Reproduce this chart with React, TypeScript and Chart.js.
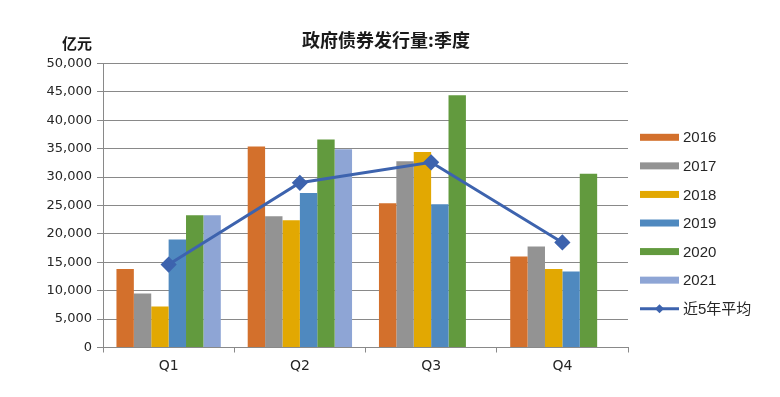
import React, { useEffect, useRef } from "react";
import { Chart, registerables } from "chart.js";

Chart.register(...registerables);

const categories = ["Q1", "Q2", "Q3", "Q4"];
const years = ["2016", "2017", "2018", "2019", "2020", "2021"];
const v2016 = [13800, 35400, 25400, 16000];
const v2017 = [9500, 23100, 32800, 17800];
const v2018 = [7200, 22400, 34400, 13800];
const v2019 = [19000, 27200, 25200, 13400];
const v2020 = [23300, 36600, 44400, 30600];
const v2021: (number | null)[] = [23300, 34900, null, null];
const avg5 = [14600, 29000, 32600, 18500];
const avgLabel = "近5年平均";
const titleText = "政府债券发行量:季度";
const unitText = "亿元";
const yMax = 50000;
const yStep = 5000;

const barColors = ["#D3702C", "#939393", "#E2A802", "#4F89BF", "#629A3E", "#8EA5D5"];
const lineColor = "#3D63AE";
const FONT = "'Liberation Sans', 'Noto Sans CJK SC', sans-serif";
const TICK_FONT = "'DejaVu Sans', 'Noto Sans CJK SC', sans-serif";

const decorPlugin = {
  id: "decor",
  afterDraw(chart: any) {
    const ctx = chart.ctx;
    const area = chart.chartArea;
    ctx.save();
    // title
    ctx.fillStyle = "#1a1a1a";
    ctx.font = `bold 18px 'Noto Sans CJK SC', sans-serif`;
    ctx.textAlign = "center";
    ctx.textBaseline = "middle";
    ctx.fillText(titleText, 386, 40);
    // unit
    ctx.font = `bold 15px 'Noto Sans CJK SC', sans-serif`;
    ctx.textAlign = "right";
    ctx.fillText(unitText, 92, 43);
    // legend
    const lx = area.right + 12;
    const top = 137.3;
    const gap = 28.57;
    ctx.font = `15px ${FONT}`;
    ctx.textAlign = "left";
    const dsets = chart.data.datasets;
    const barSets = dsets.filter((d: any) => d.type !== "line");
    const lineSets = dsets.filter((d: any) => d.type === "line");
    let i = 0;
    barSets.forEach((d: any) => {
      const y = top + gap * i;
      ctx.fillStyle = d.backgroundColor;
      ctx.fillRect(lx, y - 3.5, 39, 7);
      ctx.fillStyle = "#262626";
      ctx.fillText(d.label, lx + 43, y + 1);
      i++;
    });
    lineSets.forEach((d: any) => {
      const y = top + gap * i;
      ctx.strokeStyle = d.borderColor;
      ctx.lineWidth = 3;
      ctx.beginPath();
      ctx.moveTo(lx, y);
      ctx.lineTo(lx + 39, y);
      ctx.stroke();
      ctx.fillStyle = d.borderColor;
      ctx.beginPath();
      const cx = lx + 19.5;
      const r = 4.5;
      ctx.moveTo(cx, y - r);
      ctx.lineTo(cx + r, y);
      ctx.lineTo(cx, y + r);
      ctx.lineTo(cx - r, y);
      ctx.closePath();
      ctx.fill();
      ctx.fillStyle = "#262626";
      ctx.fillText(d.label, lx + 43, y + 1);
      i++;
    });
    ctx.restore();
  },
};

export default function App() {
  const ref = useRef<HTMLCanvasElement | null>(null);
  useEffect(() => {
    if (!ref.current) return;
    const seriesVals = [v2016, v2017, v2018, v2019, v2020, v2021];
    const datasets: any[] = years.map((y, i) => ({
      type: "bar",
      label: y,
      data: seriesVals[i],
      backgroundColor: barColors[i],
      borderWidth: 0,
      categoryPercentage: 0.795,
      barPercentage: 1,
      order: 2,
    }));
    datasets.push({
      type: "line",
      label: avgLabel,
      data: avg5,
      borderColor: lineColor,
      backgroundColor: lineColor,
      borderWidth: 3,
      pointStyle: "rectRot",
      pointRadius: 6,
      pointHoverRadius: 6,
      pointBackgroundColor: lineColor,
      pointBorderColor: lineColor,
      tension: 0,
      order: 1,
    });
    const chart = new Chart(ref.current, {
      type: "bar",
      data: { labels: categories, datasets },
      options: {
        animation: false,
        responsive: false,
        devicePixelRatio: 1,
        layout: { padding: { left: 0, top: 63.5, right: 152, bottom: 0 } },
        plugins: {
          legend: { display: false },
          title: { display: false },
          tooltip: { enabled: false },
        },
        scales: {
          x: {
            offset: true,
            grid: {
              offset: true,
              display: true,
              drawOnChartArea: false,
              drawTicks: true,
              tickLength: 5,
              color: "#898989",
            },
            border: { display: true, color: "#898989" },
            ticks: {
              color: "#262626",
              font: { family: TICK_FONT, size: 14 },
              padding: 5,
            },
            afterFit: (s: any) => {
              s.height = 49.5;
            },
          },
          y: {
            min: 0,
            max: yMax,
            ticks: {
              stepSize: yStep,
              color: "#262626",
              font: { family: TICK_FONT, size: 13 },
              padding: 5,
              callback: (v: any) => Number(v).toLocaleString("en-US"),
            },
            grid: {
              color: "#898989",
              tickLength: 6,
              drawTicks: true,
            },
            border: { display: true, color: "#898989" },
            afterFit: (s: any) => {
              s.width = 103;
            },
          },
        },
      },
      plugins: [decorPlugin],
    } as any);
    return () => chart.destroy();
  }, []);
  return (
    <div style={{ position: "fixed", left: 0, top: 0, width: 780, height: 397, background: "#fff" }}>
      <canvas ref={ref} width={780} height={397} style={{ display: "block", width: 780, height: 397 }} />
    </div>
  );
}
